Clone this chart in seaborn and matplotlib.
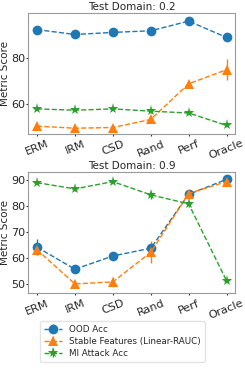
import numpy as np
import pandas as pd
import matplotlib
matplotlib.use("Agg")
import matplotlib.pyplot as plt
import seaborn as sns
from matplotlib.lines import Line2D
from matplotlib.collections import LineCollection
from matplotlib.container import ErrorbarContainer

methods = ["ERM", "IRM", "CSD", "Rand", "Perf", "Oracle"]
series_names = ["OOD Acc", "Stable Features (Linear-RAUC)", "MI Attack Acc"]

# Test Domain 0.2
ood_02 = [92.5, 90.4, 91.3, 92.0, 96.2, 89.1]
ood_02_err = [0.5, 0.5, 0.5, 0.5, 0.6, 0.6]
stable_02 = [50.6, 49.7, 50.0, 53.5, 69.0, 75.1]
stable_02_err = [0.6, 0.4, 0.5, 0.8, 1.0, 4.5]
mi_02 = [58.1, 57.5, 58.1, 57.1, 56.3, 50.9]
mi_02_err = [0.5, 0.5, 0.5, 0.6, 0.6, 0.4]

# Test Domain 0.9
ood_09 = [64.2, 55.7, 60.8, 63.8, 84.6, 90.4]
ood_09_err = [3.2, 0.8, 1.0, 1.0, 1.0, 0.5]
stable_09 = [63.2, 50.0, 50.8, 62.2, 84.9, 89.5]
stable_09_err = [2.0, 0.5, 2.0, 4.2, 1.0, 0.5]
mi_09 = [89.1, 86.7, 89.5, 84.4, 80.9, 51.2]
mi_09_err = [0.5, 0.8, 0.6, 1.5, 1.2, 0.5]

domain_labels = ["Test Domain: 0.2", "Test Domain: 0.9"]

sns.set_theme(style="white")
plt.rcParams['font.family'] = ['DejaVu Sans']

colors = sns.color_palette("tab10", 3)
markers = ["o", "^", "*"]
msizes = [7, 7, 8]

fig = plt.figure(figsize=(2.45, 3.68), dpi=100)
ax1 = fig.add_axes([0.1155, 0.6372, 0.845, 0.3267])
ax2 = fig.add_axes([0.1155, 0.2030, 0.845, 0.3288])

panels = [
    (ax1, [ood_02, stable_02, mi_02], [ood_02_err, stable_02_err, mi_02_err], domain_labels[0], (47.4, 99.6), [60, 80]),
    (ax2, [ood_09, stable_09, mi_09], [ood_09_err, stable_09_err, mi_09_err], domain_labels[1], (46.4, 93.1), [50, 60, 70, 80, 90]),
]

fs = 8
for ax, vals, errs, title, ylim, yt in panels:
    xs = np.arange(len(methods))
    for i, (v, e) in enumerate(zip(vals, errs)):
        df = pd.DataFrame({"x": xs, "y": v})
        ax.errorbar(xs, v, yerr=e, fmt="none", ecolor=colors[i], elinewidth=1.0, zorder=2)
        sns.lineplot(data=df, x="x", y="y", ax=ax, color=colors[i], marker=markers[i],
                     markersize=msizes[i], markeredgewidth=0, linestyle="--",
                     linewidth=1.0, legend=False, zorder=3)
    ax.set_xticks(xs)
    ax.set_xticklabels(methods, rotation=22, fontsize=fs)
    ax.set_xlim(-0.23, len(methods) - 1 + 0.23)
    ax.set_ylim(*ylim)
    ax.set_yticks(yt)
    ax.tick_params(axis="both", labelsize=fs, length=1.5, width=0.8, color="#333333",
                   bottom=True, left=True, pad=0.8)
    ax.tick_params(axis="x", pad=2)
    ax.set_xlabel("")
    ax.set_ylabel("Metric Score", fontsize=7.5, labelpad=0.5)
    ax.set_title(title, fontsize=7.5, pad=2.5)
    for s in ax.spines.values():
        s.set_color("#9a9a9a")
        s.set_linewidth(0.8)

handles = []
for i, name in enumerate(series_names):
    line = Line2D([], [], color=colors[i], linestyle="--", marker=markers[i],
                  markersize=msizes[i], markeredgewidth=0, linewidth=1.0)
    bar = LineCollection([], colors=[colors[i]], linewidths=1.0)
    h = ErrorbarContainer((line, (), (bar,)), has_xerr=False, has_yerr=True, label=name)
    handles.append(h)

fig.legend(handles=handles, labels=series_names, loc="lower center",
           bbox_to_anchor=(0.5, 0.005), fontsize=6.3, frameon=True,
           edgecolor="#dddddd", handlelength=2.0, borderpad=0.45, labelspacing=0.35)

fig.savefig("out.png", dpi=100)
